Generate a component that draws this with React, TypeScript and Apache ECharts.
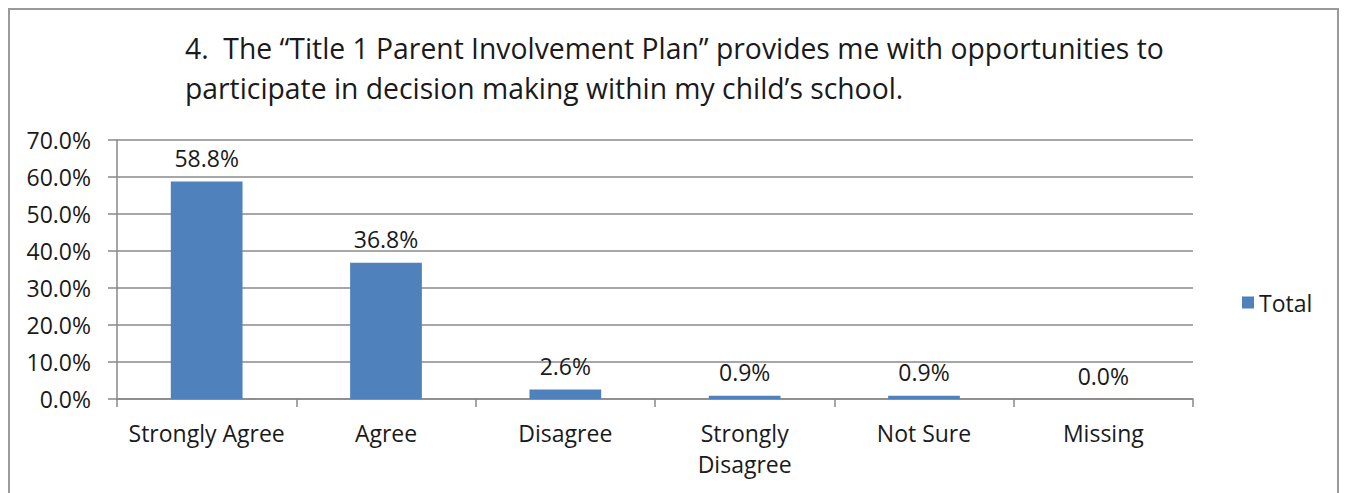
import React, { useEffect, useRef } from "react";
import * as echarts from "echarts";

const categories = ["Strongly Agree", "Agree", "Disagree", "Strongly\nDisagree", "Not Sure", "Missing"];
const totals = [58.8, 36.8, 2.6, 0.9, 0.9, 0.0];
const yTicks = { min: 0, max: 70, interval: 10 };
const titleLines = [
  "4.  The \u201cTitle 1 Parent Involvement Plan\u201d provides me with opportunities to",
  "participate in decision making within my child\u2019s school.",
];
const seriesName = "Total";

export default function App() {
  const ref = useRef<HTMLDivElement>(null);
  useEffect(() => {
    if (!ref.current) return;
    const chart = echarts.init(ref.current, null, { renderer: "svg" });
    const font = "'Open Sans', Lato, sans-serif";
    chart.setOption({
      animation: false,
      textStyle: { fontFamily: font },
      graphic: [
        {
          type: "rect",
          shape: { x: 1, y: 1, width: 1329, height: 500 },
          style: { fill: "none", stroke: "#9a9a9a", lineWidth: 2 },
          silent: true,
        },
      ],
      title: {
        text: titleLines.join("\n"),
        left: 172,
        top: 15,
        textStyle: { fontFamily: font, fontSize: 28.3, fontWeight: "normal", color: "#1a1a1a", lineHeight: 40 },
      },
      legend: {
        data: [seriesName],
        left: 1229,
        top: 278,
        icon: "rect",
        itemWidth: 12,
        itemHeight: 12,
        itemGap: 6,
        textStyle: { fontFamily: font, fontSize: 23, color: "#1a1a1a" },
      },
      grid: { left: 109, right: 146, top: 132, bottom: 94, containLabel: false },
      xAxis: {
        type: "category",
        data: categories,
        axisLine: { lineStyle: { color: "#888", width: 1.5 } },
        axisTick: { show: true, length: 8, lineStyle: { color: "#888", width: 1.5 } },
        axisLabel: { fontFamily: font, fontSize: 23, color: "#1a1a1a", margin: 18, lineHeight: 31, interval: 0 },
      },
      yAxis: {
        type: "value",
        min: yTicks.min,
        max: yTicks.max,
        interval: yTicks.interval,
        axisLine: { show: true, lineStyle: { color: "#888", width: 1.5 } },
        axisTick: { show: true, length: 9, lineStyle: { color: "#888", width: 1.5 } },
        splitLine: { lineStyle: { color: "#8a8a8a", width: 1.5 } },
        axisLabel: {
          fontFamily: font,
          fontSize: 23,
          color: "#1a1a1a",
          margin: 26,
          formatter: (v: number) => v.toFixed(1) + "%",
        },
      },
      series: [
        {
          name: seriesName,
          type: "bar",
          data: totals,
          barWidth: "40%",
          itemStyle: { color: "#4f81bd" },
          label: {
            show: true,
            position: "top",
            distance: 12,
            fontFamily: font,
            fontSize: 23,
            color: "#1a1a1a",
            formatter: (p: any) => Number(p.value).toFixed(1) + "%",
          },
        },
      ],
    });
    return () => chart.dispose();
  }, []);
  return <div ref={ref} style={{ width: 1331, height: 485 }} />;
}
